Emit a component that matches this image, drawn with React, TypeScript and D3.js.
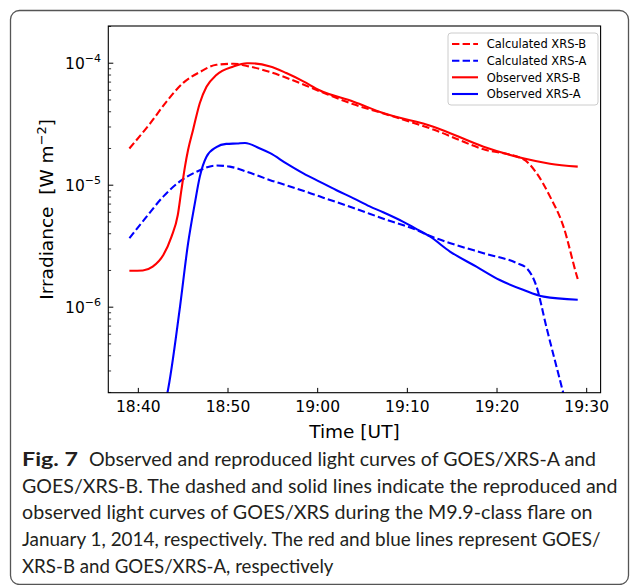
import React from "react";
import * as d3 from "d3";

// Time in minutes after 18:00 UT, irradiance in W m^-2
const calcBTimes = [39.0, 41.3, 43.1, 45.0, 46.9, 48.7, 50.6, 52.4, 54.6, 56.5, 60.2, 64.0, 67.7, 71.4, 72.9, 78.5, 82.9, 84.4, 85.9, 87.4, 88.9, 89.0];
const calcBValues = [2.0e-5, 3.2e-5, 4.8e-5, 6.9e-5, 8.5e-5, 9.7e-5, 9.9e-5, 9.4e-5, 8.5e-5, 7.6e-5, 5.9e-5, 4.6e-5, 3.8e-5, 3.12e-5, 2.86e-5, 1.97e-5, 1.64e-5, 1.26e-5, 8.1e-6, 4.6e-6, 1.8e-6, 1.7e-6];

const calcATimes = [39.0, 40.9, 42.8, 44.6, 46.5, 48.7, 50.2, 52.1, 54.7, 56.5, 60.2, 64.0, 67.7, 71.0, 72.2, 74.8, 78.5, 82.2, 83.3, 84.4, 85.5, 87.2, 89.0];
const calcAValues = [3.68e-6, 5.5e-6, 8.1e-6, 1.07e-5, 1.29e-5, 1.45e-5, 1.42e-5, 1.29e-5, 1.1e-5, 1.0e-5, 8.1e-6, 6.5e-6, 5.2e-6, 4.3e-6, 3.92e-6, 3.35e-6, 2.77e-6, 2.3e-6, 2.09e-6, 1.48e-6, 6.9e-7, 2.24e-7, 6.8e-8];

const obsBTimes = [39.0, 40.5, 41.6, 42.8, 43.7, 44.4, 44.8, 45.2, 45.55, 46.1, 46.85, 47.6, 48.7, 50.6, 52.1, 52.4, 54.7, 56.5, 58.4, 60.2, 64.0, 67.3, 72.9, 78.5, 82.9, 85.9, 89.0];
const obsBValues = [1.99e-6, 2.0e-6, 2.15e-6, 2.69e-6, 3.79e-6, 5.7e-6, 9.1e-6, 1.42e-5, 1.95e-5, 2.84e-5, 4.7e-5, 6.4e-5, 8.0e-5, 9.4e-5, 1.0e-4, 1.0e-4, 9.4e-5, 8.3e-5, 7.1e-5, 6.0e-5, 4.84e-5, 3.9e-5, 3.02e-5, 2.07e-5, 1.66e-5, 1.5e-5, 1.42e-5];

const obsATimes = [42.6, 43.25, 44.6, 45.55, 46.3, 46.85, 47.6, 48.7, 49.8, 51.0, 51.9, 53.5, 54.7, 56.5, 58.4, 60.2, 62.1, 64.0, 65.8, 67.3, 69.5, 71.2, 72.5, 74.75, 77.7, 80.3, 82.9, 85.2, 89.0];
const obsAValues = [1.3e-7, 2.0e-7, 9.5e-7, 3.35e-6, 7.1e-6, 1.17e-5, 1.71e-5, 2.05e-5, 2.18e-5, 2.2e-5, 2.22e-5, 2.01e-5, 1.83e-5, 1.51e-5, 1.25e-5, 1.07e-5, 9.1e-6, 7.8e-6, 6.7e-6, 6.0e-6, 5.03e-6, 4.3e-6, 3.8e-6, 2.86e-6, 2.15e-6, 1.67e-6, 1.39e-6, 1.22e-6, 1.15e-6];

const xTickMinutes = [40, 50, 60, 70, 80, 90];
const xTickLabels = ["18:40", "18:50", "19:00", "19:10", "19:20", "19:30"];
const yMajorExponents = [-4, -5, -6];

const legendLabels = ["Calculated XRS-B", "Calculated XRS-A", "Observed XRS-B", "Observed XRS-A"];

const captionBold = "Fig. 7";
const captionLines = [
  "Observed and reproduced light curves of GOES/XRS-A and",
  "GOES/XRS-B. The dashed and solid lines indicate the reproduced and",
  "observed light curves of GOES/XRS during the M9.9-class flare on",
  "January 1, 2014, respectively. The red and blue lines represent GOES/",
  "XRS-B and GOES/XRS-A, respectively",
];

const L = 108.3, R = 600.6, T = 26, B = 392.7;
const DASH = "7.4,3.2";
const FONT = "DejaVu Sans, sans-serif";

export default function App() {
  const x = d3.scaleLinear().domain([36.65, 91.55]).range([L, R]);
  const y = d3.scaleLog().domain([Math.pow(10, -6.701), Math.pow(10, -3.695)]).range([B, T]);

  const mk = (ts: number[], vs: number[]) => ts.map((t, i) => [t, vs[i]] as [number, number]);
  const line = d3
    .line<[number, number]>()
    .x((d) => x(d[0]))
    .y((d) => y(d[1]))
    .curve(d3.curveMonotoneX);

  const series = [
    { data: mk(calcBTimes, calcBValues), color: "#ff0000", dash: DASH },
    { data: mk(calcATimes, calcAValues), color: "#0000ff", dash: DASH },
    { data: mk(obsBTimes, obsBValues), color: "#ff0000", dash: undefined },
    { data: mk(obsATimes, obsAValues), color: "#0000ff", dash: undefined },
  ];

  const allTicks = y.ticks();
  const minorTicks = allTicks.filter((v) => Math.abs(Math.log10(v) - Math.round(Math.log10(v))) > 1e-6);

  const legendX = 448, legendY = 33;
  const rowY = [44, 60.7, 77.3, 94];

  const capY = [466, 492.7, 519.3, 546, 572.7];
  const capStart = [89, 22, 22, 22, 22];
  const capEnd = [596, 617.5, 592.6, 600.6, 333.5];

  return (
    <svg width={630} height={585} style={{ position: "absolute", left: 0, top: 0, background: "#fff" }}>
      <rect x={0} y={0} width={630} height={585} fill="#fff" />
      <rect x={10.5} y={10.5} width={618} height={574} rx={9} fill="none" stroke="#555" strokeWidth={1.3} />
      <defs>
        <clipPath id="plotclip">
          <rect x={L} y={T} width={R - L} height={B - T} />
        </clipPath>
      </defs>
      <g clipPath="url(#plotclip)">
        {series.map((s, i) => (
          <path key={i} d={line(s.data) || ""} fill="none" stroke={s.color} strokeWidth={2.1} strokeDasharray={s.dash} />
        ))}
      </g>
      {/* spines */}
      <rect x={L} y={T} width={R - L} height={B - T} fill="none" stroke="#000" strokeWidth={1.1} />
      {/* x ticks */}
      {xTickMinutes.map((m, i) => (
        <g key={m}>
          <line x1={x(m)} x2={x(m)} y1={B} y2={B - 4.8} stroke="#000" strokeWidth={1} />
          <text x={x(m)} y={411.5} textAnchor="middle" fontFamily={FONT} fontSize={15.5} fill="#000">
            {xTickLabels[i]}
          </text>
        </g>
      ))}
      {/* y ticks */}
      {yMajorExponents.map((e) => {
        const yy = y(Math.pow(10, e));
        return (
          <g key={e}>
            <line x1={L} x2={L + 5} y1={yy} y2={yy} stroke="#000" strokeWidth={1} />
            <text x={101} y={yy + 5.5} textAnchor="end" fontFamily={FONT} fontSize={15.5} fill="#000">
              10
              <tspan fontSize={11} dy={-7}>{"\u2212" + Math.abs(e)}</tspan>
            </text>
          </g>
        );
      })}
      {minorTicks.map((v, i) => (
        <line key={i} x1={L} x2={L + 2.8} y1={y(v)} y2={y(v)} stroke="#000" strokeWidth={0.8} />
      ))}
      {/* axis labels */}
      <text x={(L + R) / 2} y={438} textAnchor="middle" fontFamily={FONT} fontSize={18.5} fill="#000">
        Time [UT]
      </text>
      <text
        transform={`translate(53,${(T + B) / 2}) rotate(-90)`}
        textAnchor="middle"
        fontFamily={FONT}
        fontSize={18.5}
        fill="#000"
        style={{ whiteSpace: "pre" }}
      >
        {"Irradiance  [W m"}
        <tspan fontSize={13} dy={-7}>{"\u22122"}</tspan>
        <tspan dy={7}>]</tspan>
      </text>
      {/* legend */}
      <rect x={legendX} y={legendY} width={150} height={72} rx={3} fill="#fff" fillOpacity={0.8} stroke="#cccccc" strokeWidth={1} />
      {legendLabels.map((lab, i) => (
        <g key={lab}>
          <line
            x1={452}
            x2={478}
            y1={rowY[i]}
            y2={rowY[i]}
            stroke={series[i].color}
            strokeWidth={2.1}
            strokeDasharray={series[i].dash}
          />
          <text x={486.7} y={rowY[i] + 4.2} fontFamily={FONT} fontSize={11.5} fill="#000">
            {lab}
          </text>
        </g>
      ))}
      {/* caption */}
      <text x={22} y={capY[0]} fontFamily="Lato, sans-serif" fontWeight="bold" fontSize={19.5} fill="#231f20" textLength={56} lengthAdjust="spacingAndGlyphs">
        {captionBold}
      </text>
      {captionLines.map((ln, i) => (
        <text
          key={i}
          x={capStart[i]}
          y={capY[i]}
          fontFamily="Lato, sans-serif"
          fontSize={19.5}
          fill="#231f20"
          textLength={capEnd[i] - capStart[i]}
          lengthAdjust="spacingAndGlyphs"
        >
          {ln}
        </text>
      ))}
    </svg>
  );
}
